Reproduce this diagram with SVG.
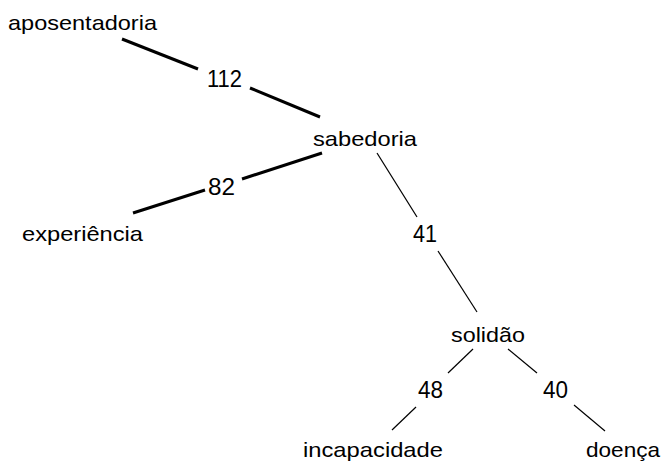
<svg xmlns="http://www.w3.org/2000/svg" width="665" height="462" viewBox="0 0 665 462">
<style>
text{font-family:"Liberation Sans",Arial,sans-serif;font-size:21px;fill:#000}
text.num{font-size:23px}
.thick{stroke:#000;stroke-width:3;fill:none}
.thin{stroke:#000;stroke-width:1.2;fill:none}
</style>
<rect width="665" height="462" fill="#fff"/>
<g id="connectors">
<line class="thick" x1="122" y1="39" x2="198" y2="69"/>
<line class="thick" x1="250" y1="88" x2="320" y2="117"/>
<line class="thick" x1="322" y1="153" x2="242" y2="179"/>
<line class="thick" x1="205" y1="190" x2="133" y2="213"/>
<line class="thin" x1="377" y1="153" x2="417" y2="217"/>
<line class="thin" x1="438" y1="251" x2="477" y2="312"/>
<line class="thin" x1="473" y1="349" x2="448" y2="373"/>
<line class="thin" x1="416" y1="407" x2="392" y2="430"/>
<line class="thin" x1="508" y1="349" x2="537" y2="373"/>
<line class="thin" x1="574" y1="405" x2="605" y2="431"/>
<text class="num" x="207" y="87" textLength="35" lengthAdjust="spacingAndGlyphs">112</text>
<text class="num" x="208" y="195" textLength="27" lengthAdjust="spacingAndGlyphs">82</text>
<text class="num" x="413" y="242" textLength="24" lengthAdjust="spacingAndGlyphs">41</text>
<text class="num" x="418" y="398" textLength="25" lengthAdjust="spacingAndGlyphs">48</text>
<text class="num" x="543" y="398" textLength="25" lengthAdjust="spacingAndGlyphs">40</text>
</g>
<g id="aposentadoria"><text x="8" y="30" textLength="149" lengthAdjust="spacingAndGlyphs">aposentadoria</text></g>
<g id="sabedoria"><text x="313" y="146" textLength="104" lengthAdjust="spacingAndGlyphs">sabedoria</text></g>
<g id="experiencia"><text x="22" y="241" textLength="121" lengthAdjust="spacingAndGlyphs">experiência</text></g>
<g id="solidao"><text x="451" y="342" textLength="74" lengthAdjust="spacingAndGlyphs">solidão</text></g>
<g id="incapacidade"><text x="303" y="457" textLength="140" lengthAdjust="spacingAndGlyphs">incapacidade</text></g>
<g id="doenca"><text x="586" y="457" textLength="74" lengthAdjust="spacingAndGlyphs">doença</text></g>
</svg>
